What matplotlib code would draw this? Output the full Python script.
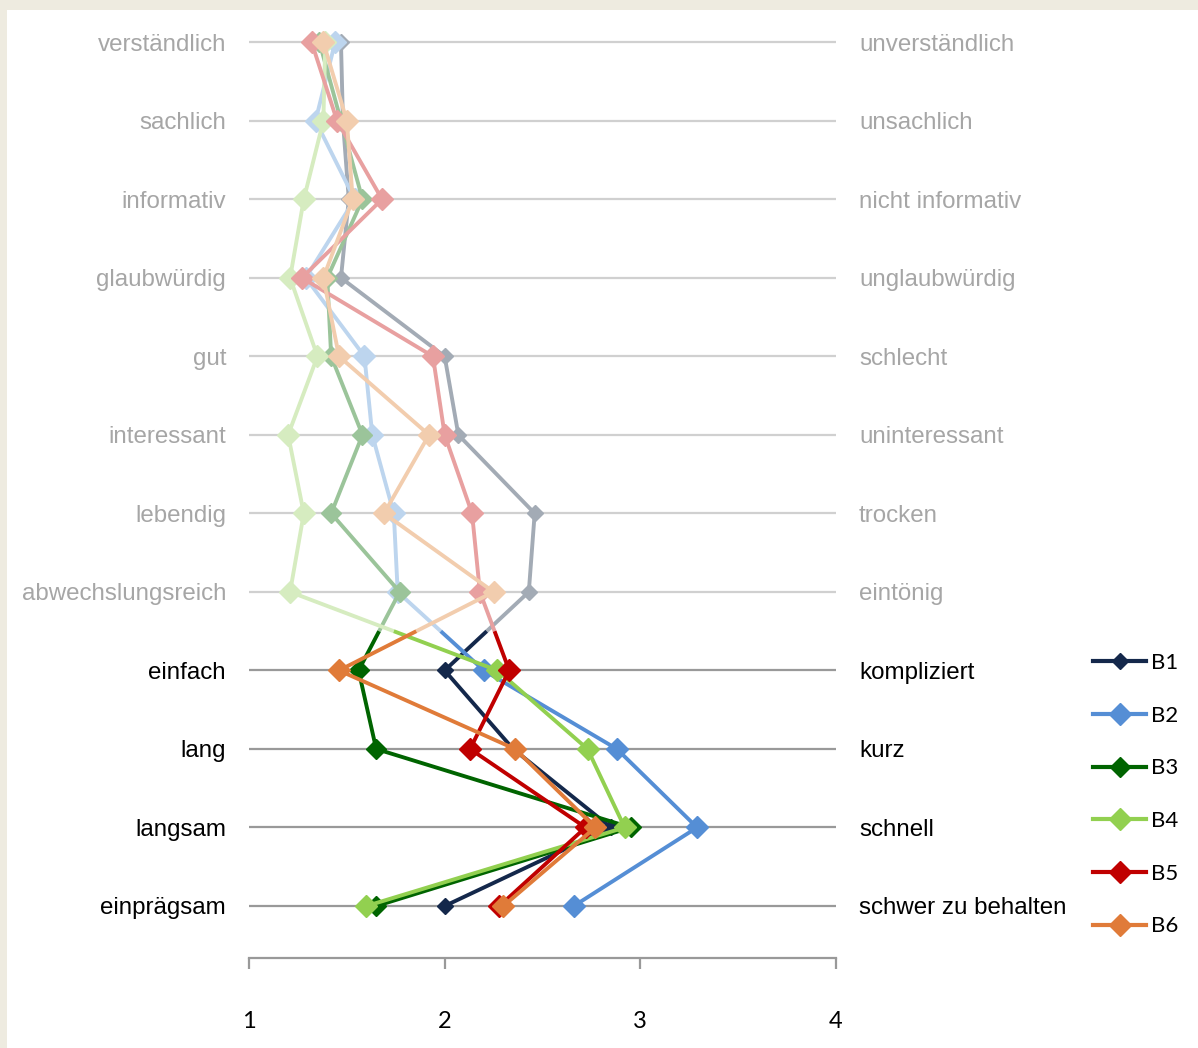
import matplotlib
matplotlib.use('Agg')
import matplotlib.pyplot as plt
from matplotlib.lines import Line2D
from matplotlib.patches import Rectangle

left_labels = ['verständlich', 'sachlich', 'informativ', 'glaubwürdig', 'gut', 'interessant',
               'lebendig', 'abwechslungsreich', 'einfach', 'lang', 'langsam', 'einprägsam']
right_labels = ['unverständlich', 'unsachlich', 'nicht informativ', 'unglaubwürdig', 'schlecht',
                'uninteressant', 'trocken', 'eintönig', 'kompliziert', 'kurz', 'schnell',
                'schwer zu behalten']

series_names = ['B1', 'B2', 'B3', 'B4', 'B5', 'B6']
b1 = [1.47, 1.48, 1.51, 1.47, 2.00, 2.07, 2.46, 2.43, 2.00, 2.35, 2.85, 2.00]
b2 = [1.44, 1.34, 1.54, 1.29, 1.59, 1.63, 1.74, 1.76, 2.20, 2.88, 3.29, 2.66]
b3 = [1.36, 1.47, 1.58, 1.40, 1.42, 1.58, 1.42, 1.77, 1.56, 1.65, 2.95, 1.65]
b4 = [1.39, 1.38, 1.28, 1.21, 1.35, 1.20, 1.28, 1.21, 2.27, 2.73, 2.92, 1.60]
b5 = [1.32, 1.45, 1.68, 1.27, 1.94, 2.00, 2.14, 2.18, 2.33, 2.13, 2.72, 2.28]
b6 = [1.38, 1.50, 1.53, 1.38, 1.46, 1.92, 1.69, 2.25, 1.46, 2.36, 2.77, 2.30]
values = [b1, b2, b3, b4, b5, b6]

# first rows belong to the faded block, the rest are highlighted
n_faded = 8

full_colors = ['#14284B', '#558ED5', '#006400', '#92D050', '#C00000', '#E07B39']
faded_colors = ['#A3ABB5', '#BDD5EE', '#9BC49A', '#D6ECC0', '#E8A0A0', '#F2CDAE']
marker_sizes = [8, 11, 10, 11, 11, 11]

fig = plt.figure(figsize=(11.98, 10.48), dpi=100)
fig.patch.set_facecolor('#EEEBE0')
fig.patches.append(Rectangle((7 / 1198, 0), 1 - 7 / 1198, 1 - 10 / 1048,
                             transform=fig.transFigure, facecolor='white',
                             edgecolor='none', zorder=-5))

ax = fig.add_axes([249 / 1198, 1 - 958 / 1048, 587 / 1198, 955 / 1048])
ax.set_facecolor('none')
ax.set_xlim(1, 4)
ax.set_ylim(11.662, -0.5)

rows = list(range(len(left_labels)))
for r in rows:
    grid_color = '#D0D0D0' if r < n_faded else '#999999'
    ax.hlines(r, 1, 4, color=grid_color, linewidth=1.6, zorder=1)

    label_color = '#A6A6A6' if r < n_faded else 'black'
    ax.text(1 - 23 / 195.67, r + 0.03, left_labels[r], ha='right', va='center',
            fontsize=17.4, color=label_color, family='Liberation Sans')
    ax.text(4 + 23 / 195.67, r + 0.03, right_labels[r], ha='left', va='center',
            fontsize=17.4, color=label_color, family='Liberation Sans')

for k, vals in enumerate(values):
    z = 3 + k
    # faded part, up to the middle of the transition segment
    xm = (vals[n_faded - 1] + vals[n_faded]) / 2
    ym = n_faded - 0.5
    ax.plot(vals[:n_faded] + [xm], rows[:n_faded] + [ym], color=faded_colors[k],
            linewidth=2.8, zorder=z, solid_capstyle='butt')
    ax.plot(vals[:n_faded], rows[:n_faded], linestyle='none', marker='D',
            markersize=marker_sizes[k], color=faded_colors[k], zorder=z)
    ax.plot([xm] + vals[n_faded:], [ym] + rows[n_faded:], color=full_colors[k],
            linewidth=2.8, zorder=z + 10, solid_capstyle='butt')
    ax.plot(vals[n_faded:], rows[n_faded:], linestyle='none', marker='D',
            markersize=marker_sizes[k], color=full_colors[k], zorder=z + 10)

for side in ['left', 'right', 'top']:
    ax.spines[side].set_visible(False)
ax.spines['bottom'].set_color('#999999')
ax.spines['bottom'].set_linewidth(1.6)
ax.set_yticks([])
ax.set_xticks([1, 2, 3, 4])
ax.tick_params(axis='x', direction='out', length=8, width=1.6, color='#999999',
               pad=30, labelsize=17)
for lbl in ax.get_xticklabels():
    lbl.set_family('Lato')

handles = [Line2D([], [], color=full_colors[k], linewidth=3, marker='D',
                  markersize=marker_sizes[k]) for k in range(len(series_names))]
leg = fig.legend(handles, series_names, loc='upper left',
                 bbox_to_anchor=(1073 / 1198, 1 - 633 / 1048), frameon=False,
                 handlelength=2.4, handletextpad=0.2, labelspacing=1.47,
                 prop={'family': 'Lato', 'size': 16})

fig.savefig('out.png', dpi=100, facecolor=fig.get_facecolor())
